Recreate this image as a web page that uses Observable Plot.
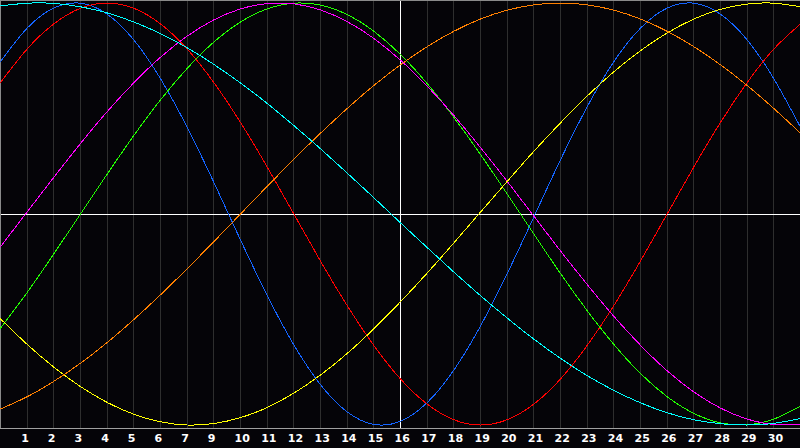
<!DOCTYPE html>
<html>
<head>
<meta charset="utf-8">
<script src="https://cdn.jsdelivr.net/npm/d3@7"></script>
<script src="https://cdn.jsdelivr.net/npm/@observablehq/plot@0.6"></script>
<style>
  html, body { margin: 0; padding: 0; background: #050408; }
  #chart svg { display: block; }
</style>
</head>
<body>
<div id="chart"></div>
<script>
const days = [0,1,2,3,4,5,6,7,8,9,10,11,12,13,14,15,16,17,18,19,20,21,22,23,24,25,26,27,28,29,30];

const physical = [0.722,0.881,0.976,0.999,0.947,0.825,0.641,0.411,0.150,-0.123,-0.386,-0.620,-0.809,-0.938,-0.997,-0.982,-0.894,-0.740,-0.531,-0.283,-0.014,0.257,0.508,0.722,0.881,0.976,0.999,0.947,0.825,0.641,0.411];
const emotional = [0.623,0.782,0.901,0.975,1.000,0.975,0.901,0.782,0.623,0.434,0.223,0.000,-0.223,-0.434,-0.623,-0.782,-0.901,-0.975,-1.000,-0.975,-0.901,-0.782,-0.623,-0.434,-0.223,0.000,0.223,0.434,0.623,0.782,0.901];
const intellectual = [-0.541,-0.372,-0.189,0.000,0.189,0.372,0.541,0.690,0.815,0.910,0.972,0.999,0.990,0.945,0.866,0.756,0.618,0.458,0.282,0.095,-0.095,-0.282,-0.458,-0.618,-0.756,-0.866,-0.945,-0.990,-0.999,-0.972,-0.910];
const intuitive = [-0.155,0.010,0.174,0.334,0.485,0.622,0.743,0.843,0.920,0.972,0.997,0.996,0.967,0.912,0.832,0.729,0.606,0.467,0.315,0.155,-0.010,-0.175,-0.334,-0.485,-0.622,-0.743,-0.843,-0.920,-0.972,-0.997,-0.996];
const aesthetic = [-0.497,-0.618,-0.726,-0.818,-0.893,-0.949,-0.985,-1.000,-0.993,-0.965,-0.917,-0.849,-0.763,-0.661,-0.544,-0.416,-0.280,-0.137,0.009,0.154,0.297,0.432,0.559,0.674,0.774,0.858,0.924,0.970,0.995,0.999,0.982];
const awareness = [-0.924,-0.866,-0.793,-0.707,-0.609,-0.500,-0.383,-0.259,-0.131,0.000,0.131,0.259,0.383,0.500,0.609,0.707,0.793,0.866,0.924,0.966,0.991,1.000,0.991,0.966,0.924,0.866,0.793,0.707,0.609,0.500,0.383];
const spiritual = [0.986,0.999,0.998,0.982,0.953,0.910,0.855,0.788,0.709,0.621,0.524,0.419,0.309,0.194,0.077,-0.042,-0.159,-0.275,-0.387,-0.493,-0.593,-0.684,-0.766,-0.836,-0.895,-0.942,-0.975,-0.994,-1.000,-0.992,-0.969];

const seriesNames = ["physical","emotional","intellectual","intuitive","aesthetic","awareness","spiritual"];
const seriesValues = [physical, emotional, intellectual, intuitive, aesthetic, awareness, spiritual];
const seriesColors = ["#1464ff","#ff0000","#22ff00","#ff00ff","#ffff00","#ff8000","#00ffff"];

const gridDays = [1,2,3,4,5,6,7,8,9,10,11,12,13,14,15,16,17,18,19,20,21,22,23,24,25,26,27,28,29];
const centerDay = [15];
const tickLabels = ["1","2","3","4","5","6","7","9","10","11","12","13","14","15","16","17","18","19","20","21","22","23","24","25","26","27","28","29","30"];

const lineMarks = seriesNames.map((name, k) =>
  Plot.line(days.map((d, i) => ({day: d, value: seriesValues[k][i]})), {
    x: "day", y: "value", stroke: seriesColors[k], strokeWidth: 1, curve: "natural"
  })
);

const chart = Plot.plot({
  width: 800,
  height: 448,
  marginLeft: 0,
  marginRight: 0,
  marginTop: 0,
  marginBottom: 20,
  style: {background: "#050408", color: "white", shapeRendering: "crispEdges", fontFamily: "DejaVu Sans", fontWeight: "bold", fontSize: "11px"},
  x: {domain: [0, 30], range: [0, 800], axis: null, label: null},
  y: {domain: [-1, 1], range: [424.5, 2.5], axis: null, label: null},
  marks: [
    Plot.ruleX(gridDays, {x: d => d, stroke: "#2e2e2e", strokeWidth: 1, strokeOpacity: 1}),
    Plot.ruleX(centerDay, {x: d => d, stroke: "#ffffff", strokeWidth: 1, strokeOpacity: 1}),
    Plot.ruleY([0], {stroke: "#ffffff", strokeWidth: 1, strokeOpacity: 1}),
    Plot.frame({anchor: "top", stroke: "#8a8a8a", strokeOpacity: 1}),
    Plot.frame({anchor: "left", stroke: "#8a8a8a", strokeOpacity: 1}),
    Plot.frame({anchor: "bottom", stroke: "#a0a0a0", strokeOpacity: 1}),
    ...lineMarks,
    Plot.axisX(gridDays, {
      anchor: "bottom",
      label: null,
      tickSize: 0,
      tickPadding: 6,
      textAnchor: "start",
      dx: -6,
      fill: "white",
      fontWeight: "bold",
      fontSize: 11,
      tickFormat: (d, i) => tickLabels[i]
    })
  ]
});
document.getElementById("chart").appendChild(chart);
</script>
</body>
</html>
